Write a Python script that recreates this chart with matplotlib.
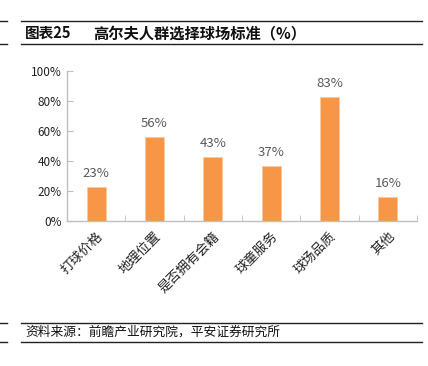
import numpy as np
import matplotlib.pyplot as plt
from matplotlib.lines import Line2D

plt.rcParams['font.family'] = ['Noto Sans CJK SC', 'DejaVu Sans']

# Data
categories = ['打球价格', '地理位置', '是否拥有会籍', '球童服务', '球场品质', '其他']
values = [23, 56, 43, 37, 83, 16]
yticks = [0, 20, 40, 60, 80, 100]

W, H = 428, 366
fig = plt.figure(figsize=(W / 100, H / 100), dpi=100)

# axes placed in pixel terms
left, right, top, bottom = 67, 417, 71, 221
ax = fig.add_axes([left / W, 1 - bottom / H, (right - left) / W, (bottom - top) / H])

x = np.arange(len(categories))
ax.bar(x, values, width=0.33, color='#F79646', edgecolor='#FBC9A0', linewidth=0.5, zorder=2)

for xi, v in zip(x, values):
    ax.annotate(f'{v}%', (xi, v), xytext=(0, 5), textcoords='offset points',
                ha='center', va='bottom', fontsize=9.5, color='#595959')

ax.set_xlim(-0.5, len(categories) - 0.5)
ax.set_ylim(0, 100)
ax.set_yticks(yticks)
ax.set_yticklabels([f'{t}%' for t in yticks], fontsize=8.5, color='#222222')
ax.tick_params(axis='y', direction='in', length=4, color='#BFBFBF', pad=4)

ax.set_xticks(x)
ax.set_xticklabels(categories, rotation=45, ha='right', rotation_mode='anchor',
                   fontsize=9.5, color='#222222')
ax.tick_params(axis='x', which='major', length=0, pad=6)
ax.set_xticks(np.arange(-0.5, len(categories)), minor=True)
ax.tick_params(axis='x', which='minor', direction='in', length=4, color='#BFBFBF')

for s in ['top', 'right']:
    ax.spines[s].set_visible(False)
for s in ['left', 'bottom']:
    ax.spines[s].set_color('#BFBFBF')
    ax.spines[s].set_linewidth(1.0)

# header / footer rules
def hline(y, x0, x1, lw=1.0):
    fig.add_artist(Line2D([x0 / W, x1 / W], [1 - y / H, 1 - y / H], color='#222222', linewidth=lw))

for y in (21, 44, 323, 342):
    hline(y, 0, 7)
    hline(y, 21, 422)

fig.text(25 / W, 1 - 33 / H, '图表25', fontsize=10.5,
         fontweight='bold', va='center', ha='left', color='#111111')
fig.text(93 / W, 1 - 33 / H, '高尔夫人群选择球场标准（%）', fontsize=11,
         fontweight='bold', va='center', ha='left', color='#111111')
fig.text(25 / W, 1 - 332 / H, '资料来源：前瞻产业研究院，平安证券研究所', fontsize=9.2,
         style='italic', va='center', ha='left', color='#111111')

fig.savefig('out.png', dpi=100)
